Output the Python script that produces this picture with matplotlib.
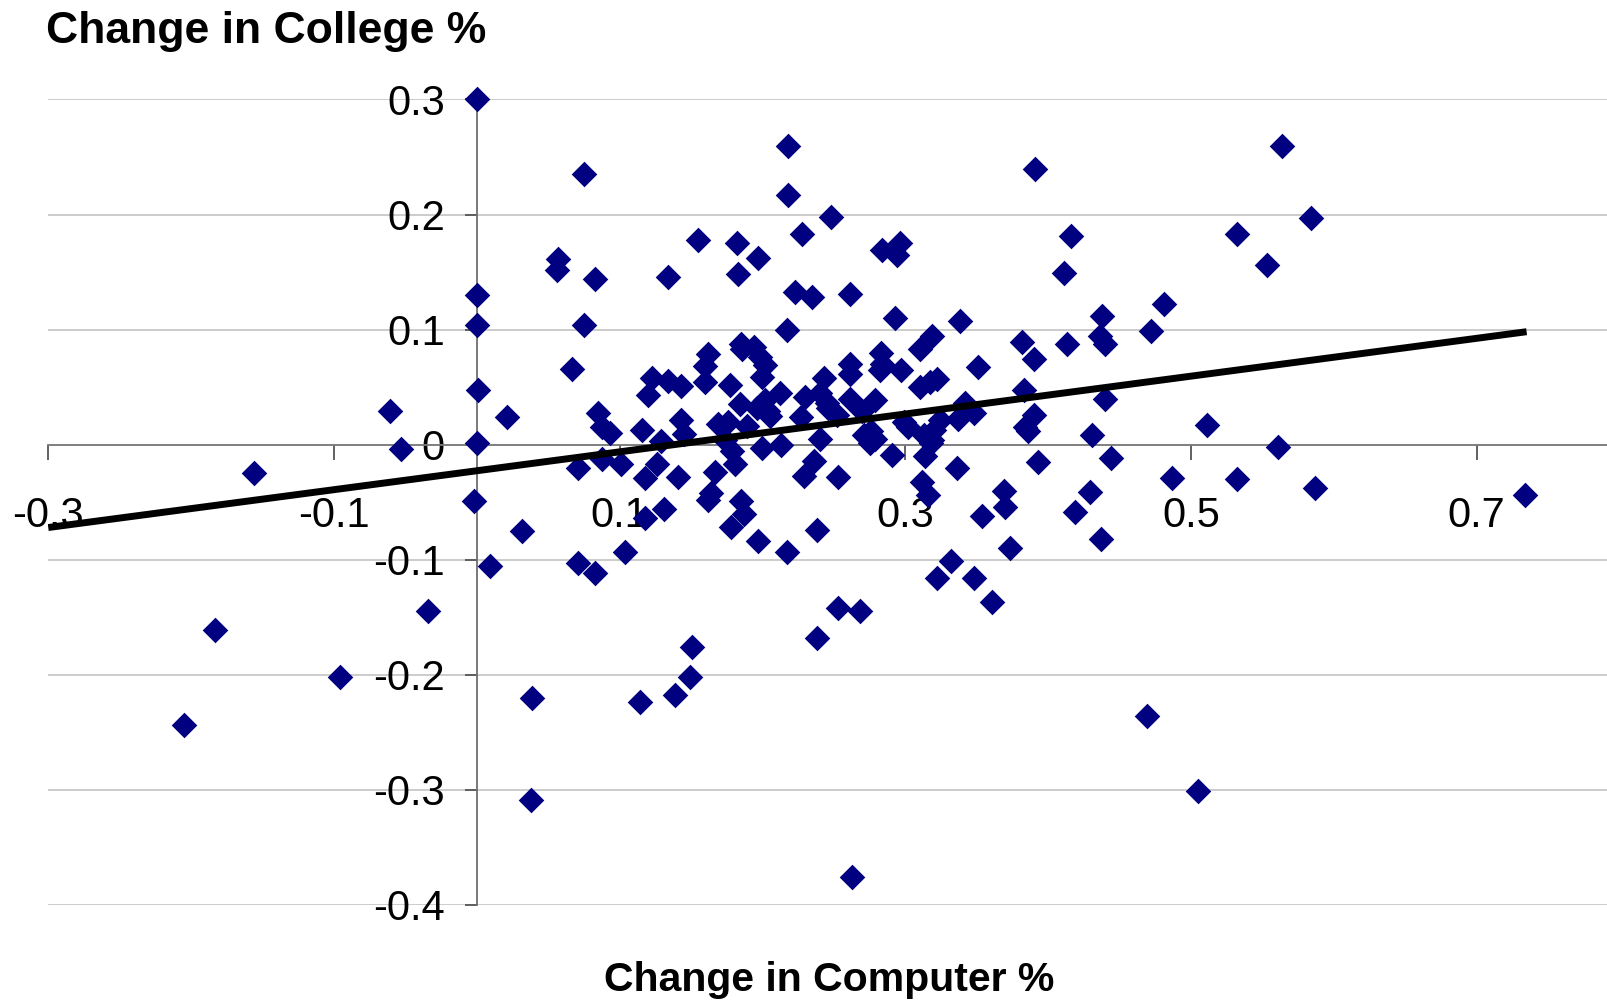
"""
Scatter of county-level change in college share against change in computer use,
with a linear trendline.
"""
import matplotlib
matplotlib.use("Agg")
import matplotlib.pyplot as plt
import numpy as np

plt.rcParams["font.family"] = ["Liberation Sans", "DejaVu Sans"]

# change in computer % (x) and change in college % (y)
computer_change = [
    0.000, 0.000, 0.000, 0.001, 0.000, -0.002, 0.009, 0.021, 0.032, 0.039,
    0.038, -0.061, -0.053, -0.156, -0.183, -0.205, -0.096, -0.034, 0.056, 0.057,
    0.075, 0.083, 0.075, 0.067, 0.071, 0.071, 0.083, 0.085, 0.088, 0.093,
    0.088, 0.101, 0.104, 0.114, 0.116, 0.118, 0.118, 0.120, 0.123, 0.126,
    0.129, 0.131, 0.134, 0.134, 0.139, 0.141, 0.143, 0.143, 0.145, 0.149,
    0.151, 0.155, 0.160, 0.162, 0.162, 0.164, 0.167, 0.169, 0.160, 0.174,
    0.177, 0.176, 0.178, 0.179, 0.181, 0.182, 0.183, 0.185, 0.185, 0.187,
    0.184, 0.186, 0.189, 0.194, 0.196, 0.197, 0.197, 0.198, 0.200, 0.200,
    0.202, 0.204, 0.205, 0.202, 0.212, 0.213, 0.217, 0.217, 0.218, 0.218,
    0.223, 0.227, 0.228, 0.229, 0.230, 0.235, 0.236, 0.238, 0.238, 0.240,
    0.240, 0.243, 0.245, 0.246, 0.248, 0.252, 0.253, 0.253, 0.261, 0.261,
    0.261, 0.261, 0.263, 0.268, 0.270, 0.271, 0.275, 0.276, 0.279, 0.279,
    0.283, 0.282, 0.284, 0.284, 0.291, 0.293, 0.294, 0.296, 0.297, 0.299,
    0.302, 0.310, 0.312, 0.310, 0.313, 0.314, 0.316, 0.317, 0.318, 0.319,
    0.320, 0.322, 0.322, 0.324, 0.319, 0.332, 0.336, 0.337, 0.338, 0.342,
    0.348, 0.351, 0.348, 0.354, 0.361, 0.369, 0.370, 0.373, 0.382, 0.383,
    0.384, 0.386, 0.390, 0.390, 0.391, 0.393, 0.411, 0.413, 0.416, 0.419,
    0.429, 0.431, 0.436, 0.438, 0.437, 0.440, 0.440, 0.444, 0.469, 0.472,
    0.481, 0.487, 0.505, 0.511, 0.532, 0.532, 0.553, 0.561, 0.564, 0.584,
    0.587, 0.734,
]
college_change = [
    0.300, 0.130, 0.104, 0.047, 0.001, -0.049, -0.106, 0.024, -0.075, -0.220,
    -0.309, 0.029, -0.004, -0.025, -0.161, -0.244, -0.202, -0.145, 0.152, 0.161,
    0.235, 0.144, 0.104, 0.066, -0.020, -0.103, -0.112, 0.027, 0.015, 0.010,
    -0.013, -0.017, -0.093, -0.224, 0.013, -0.029, -0.064, 0.043, 0.058, -0.017,
    0.003, -0.056, 0.146, 0.055, -0.218, -0.028, 0.021, 0.051, 0.009, -0.202,
    -0.176, 0.178, 0.068, 0.079, -0.048, -0.042, -0.024, 0.018, 0.054, 0.004,
    0.052, 0.020, -0.072, -0.006, -0.017, 0.175, 0.148, -0.049, 0.087, -0.060,
    0.035, 0.083, 0.016, 0.085, 0.032, 0.162, -0.084, 0.076, -0.003, 0.059,
    0.069, 0.029, 0.025, 0.039, 0.045, 0.000, 0.100, -0.093, 0.217, 0.260,
    0.133, 0.024, 0.183, -0.027, 0.041, 0.128, -0.014, -0.074, -0.168, 0.005,
    0.045, 0.058, 0.036, 0.032, 0.198, 0.026, -0.028, -0.142, 0.131, 0.070,
    0.061, 0.040, -0.376, -0.145, 0.029, 0.008, 0.001, 0.012, 0.039, 0.005,
    0.080, 0.065, 0.070, 0.169, -0.009, 0.110, 0.165, 0.175, 0.065, 0.020,
    0.015, 0.050, -0.033, 0.083, 0.008, -0.010, -0.044, 0.054, 0.001, 0.094,
    0.013, 0.057, -0.116, 0.021, 0.004, -0.101, -0.020, 0.022, 0.107, 0.036,
    0.027, 0.067, -0.116, -0.062, -0.137, -0.040, -0.054, -0.090, 0.089, 0.047,
    0.015, 0.012, 0.074, 0.026, 0.240, -0.015, 0.149, 0.087, 0.181, -0.059,
    -0.041, 0.008, 0.094, 0.112, -0.082, 0.087, 0.040, -0.012, -0.236, 0.099,
    0.122, -0.029, -0.301, 0.017, 0.183, -0.030, 0.156, -0.002, 0.260, 0.197,
    -0.038, -0.044,
]

# linear trendline
trend_intercept = -0.0228
trend_slope = 0.1645
trend_x = [-0.3, 0.735]

x_ticks = [-0.3, -0.1, 0.1, 0.3, 0.5, 0.7]
x_tick_labels = ["-0.3", "-0.1", "0.1", "0.3", "0.5", "0.7"]
y_ticks = [0.3, 0.2, 0.1, 0.0, -0.1, -0.2, -0.3, -0.4]
y_tick_labels = ["0.3", "0.2", "0.1", "0", "-0.1", "-0.2", "-0.3", "-0.4"]

fig = plt.figure(figsize=(16.08, 10.01), dpi=100)
ax = fig.add_axes([0.030, 0.0963, 0.970, 0.8043])

ax.set_xlim(-0.3, 0.792)
ax.set_ylim(-0.4, 0.3)

# horizontal gridlines only
for yv in y_ticks:
    ax.axhline(yv, color="#c4c4c4", lw=1.2, zorder=0)

# markers on the top gridline must not be cut off
ax.scatter(computer_change, college_change, marker="D", s=170,
           color="#000080", linewidths=0, zorder=3, clip_on=False)

tx = np.array(trend_x)
ax.plot(tx, trend_intercept + trend_slope * tx, color="black", lw=5,
        solid_capstyle="butt", zorder=4)

# axes cross at the origin
for side in ("top", "right"):
    ax.spines[side].set_visible(False)
ax.spines["left"].set_position(("data", 0))
ax.spines["bottom"].set_position(("data", 0))
ax.spines["left"].set_color("#6e6e6e")
ax.spines["bottom"].set_color("#7a7a7a")
ax.spines["left"].set_linewidth(1.3)
ax.spines["bottom"].set_linewidth(1.3)
ax.spines["left"].set_zorder(2)
ax.spines["bottom"].set_zorder(2)

ax.set_xticks(x_ticks)
ax.set_xticklabels(x_tick_labels)
ax.set_yticks(y_ticks)
ax.set_yticklabels(y_tick_labels)
ax.tick_params(axis="x", direction="out", length=11, width=1.3, color="#555555",
               pad=26, labelsize=30)
ax.tick_params(axis="y", direction="out", length=9, width=1.3, color="#555555",
               pad=14, labelsize=30)

fig.text(0.0286, 0.957, "Change in College %", fontsize=32, fontweight="bold",
         ha="left", va="baseline")
fig.text(0.5156, 0.010, "Change in Computer %", fontsize=29.5, fontweight="bold",
         ha="center", va="baseline")

fig.savefig("out.png", dpi=100)
plt.close(fig)
